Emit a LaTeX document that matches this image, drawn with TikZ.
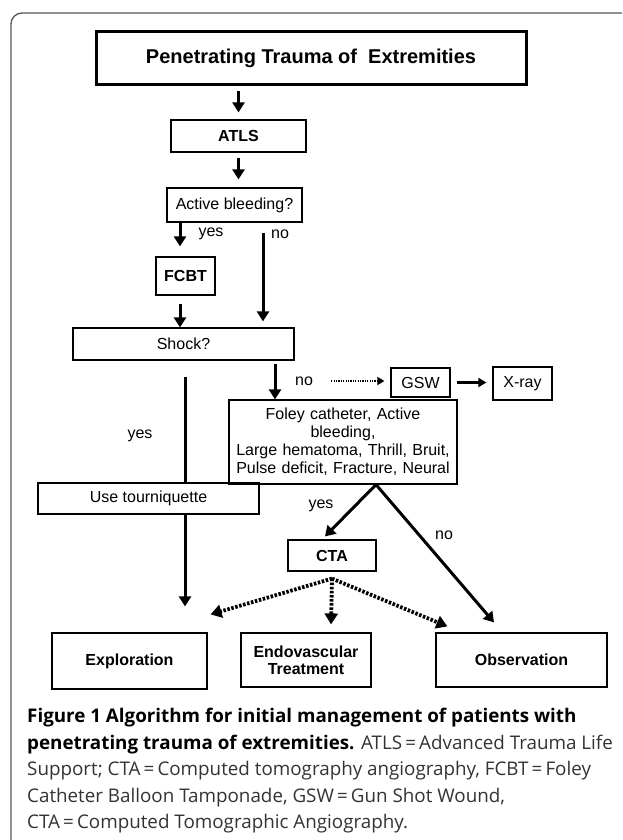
\documentclass[tikz,border=0pt]{standalone}
\usepackage{fontspec}
\setmainfont{Liberation Sans}
\newfontfamily\capfont{Open Sans}
\usetikzlibrary{arrows.meta,calc}
\begin{document}
\begin{tikzpicture}[x=1pt,y=-1pt,
  box/.style={draw, line width=1.2pt, inner sep=0pt, align=center, font=\fontsize{16}{18}\selectfont},
  bbox/.style={box, font=\fontsize{16}{17}\selectfont\bfseries},
  lab/.style={inner sep=0pt, font=\fontsize{16}{18}\selectfont},
  arr/.style={line width=3pt, -{Triangle[length=10pt,width=12pt]}},
  plain/.style={line width=3pt},
  darr/.style={line width=3.8pt, dash pattern=on 2.5pt off 1.6pt, -{Triangle[length=11pt,width=13pt]}},
  dotarr/.style={line width=1.8pt, dash pattern=on 1.2pt off 1.2pt, -{Triangle[length=7pt,width=8pt]}},
  smarr/.style={line width=2.2pt, -{Triangle[length=8pt,width=9pt]}}
]
\clip (0,0) rectangle (622,840);
\useasboundingbox (0,0) rectangle (622,840);
\fill[white] (0,0) rectangle (622,840);
% frame
\draw[black!65, line width=1.3pt, rounded corners=11pt] (11,13) rectangle (662,875);

% nodes
\node[box, line width=3pt, minimum width=430pt, minimum height=53pt, font=\fontsize{20}{22}\selectfont\bfseries] (title) at (311,58.5) {Penetrating Trauma of\ \ Extremities};
\node[bbox, minimum width=135pt, minimum height=32pt] (atls) at (238.5,136) {ATLS};
\node[box, minimum width=135pt, minimum height=34pt] (bleed) at (234.5,205) {Active bleeding?};
\node[bbox, minimum width=59pt, minimum height=38pt] (fcbt) at (185.5,276) {FCBT};
\node[box, minimum width=221pt, minimum height=32pt] (shock) at (183.5,344) {Shock?};
\node[box, minimum width=59pt, minimum height=29pt] (gsw) at (420.5,382.5) {GSW};
\node[box, minimum width=59pt, minimum height=33pt] (xray) at (522.5,383.5) {X-ray};
\node[box, minimum width=228pt, minimum height=84pt, text width=224pt] (foley) at (343,442)
  {Foley catheter, Active\\ bleeding,\\ Large hematoma, Thrill, Bruit,\\ Pulse deficit, Fracture, Neural};
\node[box, minimum width=221pt, minimum height=31pt] (tour) at (148.5,498.5) {Use tourniquette};
\node[bbox, minimum width=88pt, minimum height=31pt] (cta) at (332,555.5) {CTA};
\node[bbox, minimum width=155pt, minimum height=56pt] (expl) at (129.5,661) {Exploration};
\node[bbox, minimum width=130pt, minimum height=54pt] (endo) at (306,660) {Endovascular\\ Treatment};
\node[bbox, minimum width=171pt, minimum height=54pt] (obs) at (521.5,660) {Observation};

% labels
\node[lab] (yes1) at (211,234) {yes};
\node[lab] (no1) at (280,234) {no};
\node[lab] (yes2) at (140,436) {yes};
\node[lab] (no2) at (304,381) {no};
\node[lab] (yes3) at (321,506) {yes};
\node[lab] (no3) at (444,535) {no};

% helper coordinates
\coordinate (fx) at ([xshift=-5.5pt]fcbt.north);
\coordinate (nocol) at (263,233);
\coordinate (yx) at (185,0);
\coordinate (sx) at (275,0);
\coordinate (fb) at ([xshift=33pt]foley.south);
\coordinate (cb) at ([yshift=-7pt]cta.south);

% connectors
\draw[arr, shorten <=5pt, shorten >=7pt] (title.south -| atls.north) -- (atls.north);
\draw[arr, shorten <=5pt, shorten >=8pt] (atls.south) -- (atls.south |- bleed.north);
\draw[arr, shorten >=10pt] (fx |- bleed.south) -- (fx);
\draw[arr, shorten >=6pt] (nocol) -- (nocol |- shock.north);
\draw[arr, shorten <=8pt] (fx |- fcbt.south) -- (fx |- shock.north);
\draw[plain, shorten <=16pt] (yx |- shock.south) -- (yx |- tour.north);
\draw[arr, shorten >=26pt] (yx |- tour.south) -- (yx |- expl.north);
\draw[arr, shorten <=3pt] (sx |- shock.south) -- (sx |- foley.north);
\draw[dotarr, shorten <=18pt, shorten >=6pt] (no2.east) -- (no2.east -| gsw.west);
\draw[smarr, shorten <=6pt, shorten >=6pt] (gsw.east) -- (gsw.east -| xray.west);
\draw[arr] (fb) -- ([xshift=-7pt,yshift=3pt]cta.north);
\draw[arr] (fb) -- ([xshift=-27.5pt,yshift=10pt]obs.north);
\draw[darr] (cb) -- ([xshift=3pt,yshift=18pt]expl.north east);
\draw[darr] (cb) -- ([xshift=25pt,yshift=8pt]endo.north);
\draw[darr] (cb) -- ([xshift=12pt,yshift=6pt]obs.north west);

% caption
\node[anchor=north west, inner sep=0pt, align=left, font=\capfont\fontsize{18.8}{26.5}\selectfont, text=black!80] (cap) at (27,708)
{\textbf{\color{black}Figure 1 Algorithm for initial management of patients with}\\
 \textbf{\color{black}penetrating trauma of extremities.} ATLS\,=\,Advanced Trauma Life\\
 Support; CTA\,=\,Computed tomography angiography, FCBT\,=\,Foley\\
 Catheter Balloon Tamponade, GSW\,=\,Gun Shot Wound,\\
 CTA\,=\,Computed Tomographic Angiography.};
\end{tikzpicture}
\end{document}
